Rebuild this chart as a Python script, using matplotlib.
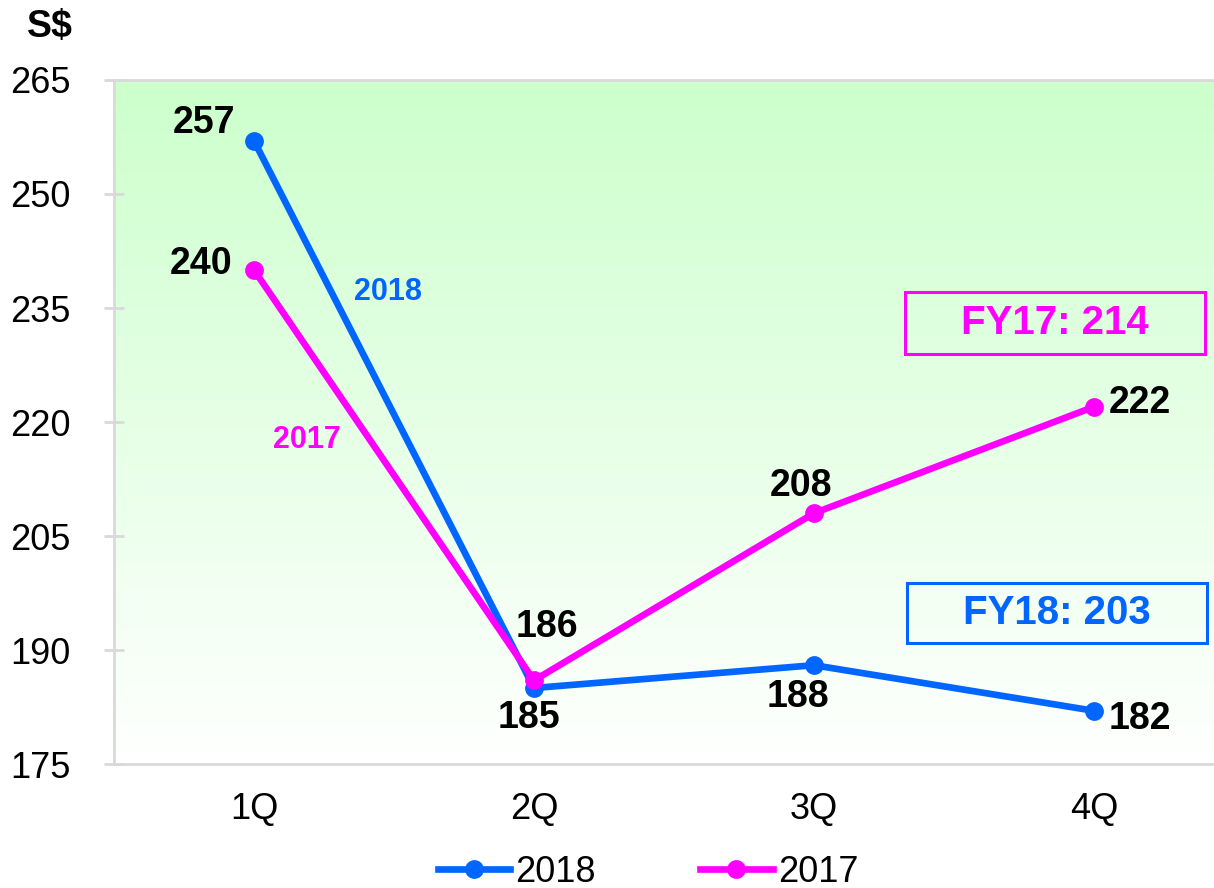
import numpy as np
import matplotlib.pyplot as plt
from matplotlib.colors import LinearSegmentedColormap

# chart data
quarters = ["1Q", "2Q", "3Q", "4Q"]
values_2018 = [257, 185, 188, 182]
values_2017 = [240, 186, 208, 222]
y_ticks = [175, 190, 205, 220, 235, 250, 265]
fy_labels = ["FY17: 214", "FY18: 203"]

BLUE = "#0066FF"
MAGENTA = "#FF00FF"
GRID = "#D9D9D9"

plt.rcParams["font.family"] = ["Liberation Sans", "DejaVu Sans"]

fig = plt.figure(figsize=(12.14, 8.88), dpi=100)
ax = fig.add_axes([114 / 1214, 1 - 764 / 888, 1120 / 1214, 684 / 888])

x = np.arange(len(quarters))
ax.set_xlim(-0.5, 3.5)
ax.set_ylim(175, 265)

# gradient background: light green at top fading to white
grad = np.linspace(0, 1, 256).reshape(-1, 1)
cmap = LinearSegmentedColormap.from_list("bg", ["#FFFFFF", "#CCFFCC"])
ax.imshow(grad, aspect="auto", cmap=cmap, origin="lower",
          extent=(-0.5, 3.5, 175, 265), zorder=0)

ax.plot(x, values_2018, color=BLUE, lw=4.8, marker="o", ms=12.5, label="2018", zorder=3)
ax.plot(x, values_2017, color=MAGENTA, lw=4.8, marker="o", ms=12.5, label="2017", zorder=4)

# data labels (offsets in pixels)
off_2018 = [(-50, 18), (-5, -30), (-16, -32), (46, -8)]
off_2017 = [(-53, 6), (13, 53), (-13, 27), (46, 4)]
for xi, v, o in zip(x, values_2018, off_2018):
    ax.annotate(str(v), (xi, v), xytext=o, textcoords="offset pixels",
                ha="center", va="center", fontsize=27, fontweight="bold", zorder=5)
for xi, v, o in zip(x, values_2017, off_2017):
    ax.annotate(str(v), (xi, v), xytext=o, textcoords="offset pixels",
                ha="center", va="center", fontsize=27, fontweight="bold", zorder=5)

# inline series labels
ax.text(388 / 1214, 1 - 292 / 888, "2018", transform=fig.transFigure, color=BLUE,
        fontsize=22, fontweight="bold", ha="center", va="center")
ax.text(307 / 1214, 1 - 440 / 888, "2017", transform=fig.transFigure, color=MAGENTA,
        fontsize=22, fontweight="bold", ha="center", va="center")

# full-year boxes
for label, col, (x0, y0, x1, y1) in [
    (fy_labels[0], MAGENTA, (905, 292, 1205, 354)),
    (fy_labels[1], BLUE, (907, 583, 1207, 643)),
]:
    rect = plt.Rectangle((x0 / 1214, 1 - y1 / 888), (x1 - x0) / 1214, (y1 - y0) / 888,
                         transform=fig.transFigure, fill=False, edgecolor=col, lw=2.2,
                         zorder=6)
    fig.add_artist(rect)
    fig.text((x0 + x1) / 2 / 1214, 1 - (y0 + y1) / 2 / 888, label, color=col,
             fontsize=29, fontweight="bold", ha="center", va="center")

# axes styling
ax.set_xticks(x)
ax.set_xticklabels(quarters, fontsize=26)
ax.set_yticks(y_ticks)
ax.tick_params(axis="y", labelsize=26, direction="inout", length=14, width=2,
               color=GRID, pad=24)
ax.tick_params(axis="x", length=0, pad=20)
for side in ["left", "bottom", "top"]:
    ax.spines[side].set_color(GRID)
    ax.spines[side].set_linewidth(2)
ax.spines["right"].set_visible(False)

fig.text(50 / 1214, 1 - 27 / 888, "S$", fontsize=27, fontweight="bold",
         ha="center", va="center")

ax.legend(loc="center", bbox_to_anchor=(648 / 1214, 1 - 872 / 888),
          bbox_transform=fig.transFigure, ncol=2, frameon=False, fontsize=26,
          handlelength=2.0, handletextpad=0.15, columnspacing=2.9)

fig.savefig("out.png", dpi=100)
